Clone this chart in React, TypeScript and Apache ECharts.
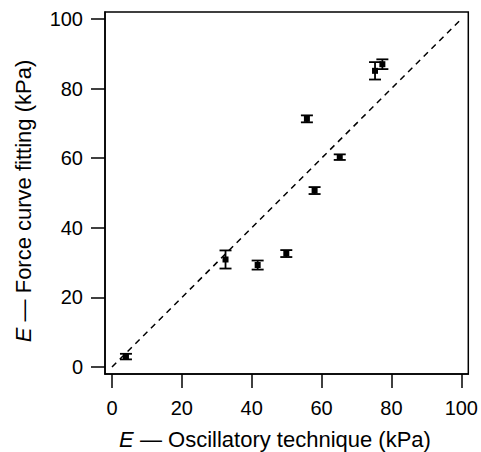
import React, { useEffect, useRef } from "react";
import * as echarts from "echarts";

const xValues = [4, 32.5, 41.7, 49.9, 55.8, 58, 65.2, 75.3, 77.4];
const yValues = [3, 30.9, 29.3, 32.6, 71.3, 50.7, 60.3, 85.1, 87.0];
const yErrors = [0.8, 2.6, 1.3, 1.0, 1.0, 1.0, 0.8, 2.5, 1.4];
const tickValues = [0, 20, 40, 60, 80, 100];
const identityLine = [[0, 0], [100, 100]];
const AXIS_MIN = -2;
const AXIS_MAX = 102;

const FONT = "'Liberation Sans', Arial, Helvetica, sans-serif";

export default function App() {
  const ref = useRef<HTMLDivElement>(null);
  useEffect(() => {
    if (!ref.current) return;
    const chart = echarts.init(ref.current, null, { renderer: "svg" });
    const data = xValues.map((x, i) => [x, yValues[i], yErrors[i]]);
    const axisCommon = {
      type: "value",
      min: AXIS_MIN,
      max: AXIS_MAX,
      axisLine: { show: true, onZero: false, lineStyle: { color: "#000", width: 1.5 } },
      axisTick: {
        show: true,
        inside: false,
        length: 14,
        customValues: tickValues,
        lineStyle: { color: "#000", width: 1.5 },
      },
      splitLine: { show: false },
    };
    chart.setOption({
      animation: false,
      backgroundColor: "#fff",
      grid: {
        left: 105,
        right: 12,
        top: 12,
        bottom: 78,
        show: true,
        borderColor: "#000",
        borderWidth: 1.5,
        backgroundColor: "transparent",
      },
      xAxis: {
        ...axisCommon,
        axisLabel: {
          customValues: tickValues,
          fontSize: 20,
          color: "#000",
          fontFamily: FONT,
          margin: 24,
        },
      },
      yAxis: {
        ...axisCommon,
        axisLabel: {
          customValues: tickValues,
          fontSize: 20,
          color: "#000",
          fontFamily: FONT,
          margin: 22,
        },
      },
      graphic: [
        {
          type: "text",
          x: 275,
          y: 439,
          style: {
            text: "{i|E} — Oscillatory technique (kPa)",
            fontSize: 22,
            fontFamily: FONT,
            fill: "#000",
            align: "center",
            verticalAlign: "middle",
            rich: { i: { fontStyle: "italic", fontSize: 22, fontFamily: FONT, fill: "#000" } },
          },
        },
        {
          type: "text",
          x: 23,
          y: 201,
          rotation: Math.PI / 2,
          style: {
            text: "{i|E} — Force curve fitting (kPa)",
            fontSize: 22,
            fontFamily: FONT,
            fill: "#000",
            align: "center",
            verticalAlign: "middle",
            rich: { i: { fontStyle: "italic", fontSize: 22, fontFamily: FONT, fill: "#000" } },
          },
        },
      ],
      series: [
        {
          type: "line",
          data: identityLine,
          symbol: "none",
          silent: true,
          lineStyle: { color: "#000", width: 1.5, type: [6, 5] },
        },
        {
          type: "custom",
          data,
          renderItem: (params: any, api: any) => {
            const x = api.value(0);
            const y = api.value(1);
            const e = api.value(2);
            const c = api.coord([x, y]);
            const hi = api.coord([x, y + e]);
            const lo = api.coord([x, y - e]);
            const cap = 6;
            const st = { stroke: "#000", lineWidth: 1.8 };
            return {
              type: "group",
              children: [
                { type: "line", shape: { x1: c[0], y1: hi[1], x2: c[0], y2: lo[1] }, style: st },
                { type: "line", shape: { x1: c[0] - cap, y1: hi[1], x2: c[0] + cap, y2: hi[1] }, style: st },
                { type: "line", shape: { x1: c[0] - cap, y1: lo[1], x2: c[0] + cap, y2: lo[1] }, style: st },
                { type: "rect", shape: { x: c[0] - 3, y: c[1] - 3, width: 6, height: 6 }, style: { fill: "#000" } },
              ],
            };
          },
        },
      ],
    });
    return () => chart.dispose();
  }, []);
  return (
    <div
      ref={ref}
      style={{ position: "fixed", left: 0, top: 0, width: 481, height: 452 }}
    />
  );
}
